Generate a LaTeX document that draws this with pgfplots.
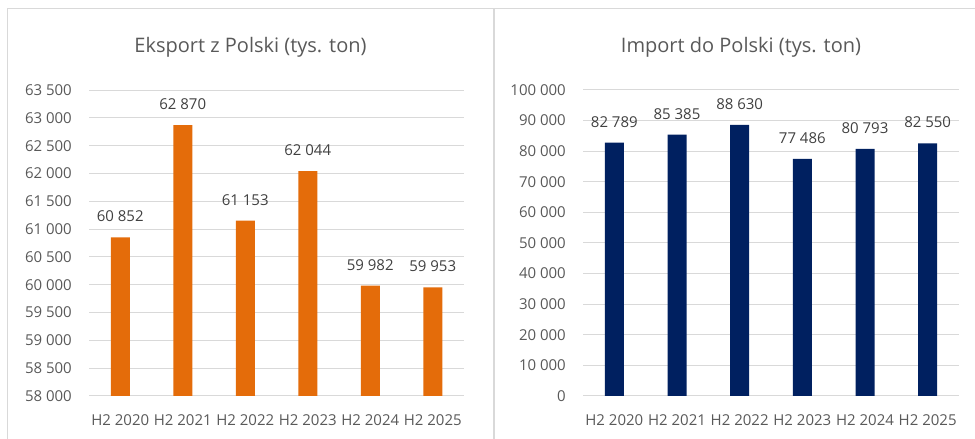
\documentclass[border=0pt]{standalone}
\usepackage{pgfplots}
\pgfplotsset{compat=1.18}
\usepackage{fontspec}
\setmainfont{Open Sans}
\definecolor{txt}{HTML}{595959}
\definecolor{lbl}{HTML}{404040}
\definecolor{gridc}{HTML}{D9D9D9}
\definecolor{orng}{HTML}{E46C0A}
\definecolor{navy}{HTML}{002060}
\pgfplotsset{mystyle/.style={
  scale only axis, height=306pt,
  xmin=-0.5, xmax=5.5, xtick={0,...,5},
  xticklabels={H2 2020,H2 2021,H2 2022,H2 2023,H2 2024,H2 2025},
  axis line style={draw=none}, major tick length=0pt,
  ymajorgrids, grid style={gridc, line width=1pt},
  ybar, bar width=19pt,
  scaled y ticks=false,
  /pgf/number format/.cd, assume math mode=true, 1000 sep={\ }, fixed, precision=0,
  /pgfplots/.cd,
  tick label style={font=\fontsize{15}{18}\selectfont, text=txt, inner sep=0pt},
  yticklabel style={anchor=east, xshift=-17pt},
  xticklabel style={anchor=base, yshift=-30pt},
  nodes near coords,
  nodes near coords style={font=\fontsize{15}{18}\selectfont, text=lbl, anchor=base, yshift=15.5pt, inner sep=0pt},
}}
\begin{document}
\begin{tikzpicture}
\useasboundingbox (0,0) rectangle (975pt,439pt);
\draw[gridc, line width=1.5pt] (7.5pt,-20pt) -- (7.5pt,430.5pt) -- (1000pt,430.5pt);
\draw[gridc, line width=1.5pt] (494pt,-20pt) -- (494pt,430.5pt);
\node[anchor=base, font=\fontsize{20}{24}\selectfont, text=txt] at (250.5pt,386.7pt) {Eksport z Polski (tys. ton)};
\node[anchor=base, font=\fontsize{20}{24}\selectfont, text=txt] at (741pt,386.7pt) {Import do Polski (tys. ton)};
\begin{axis}[mystyle, at={(89pt,43pt)}, anchor=south west, width=375pt,
  ymin=58000, ymax=63500, ytick={58000,58500,...,63500}]
\addplot[fill=orng, draw=none] coordinates {(0,60852) (1,62870) (2,61153) (3,62044) (4,59982) (5,59953)};
\end{axis}
\begin{axis}[mystyle, at={(583pt,43pt)}, anchor=south west, width=376pt,
  ymin=0, ymax=100000, ytick={0,10000,...,100000}]
\addplot[fill=navy, draw=none] coordinates {(0,82789) (1,85385) (2,88630) (3,77486) (4,80793) (5,82550)};
\end{axis}
\end{tikzpicture}
\end{document}
